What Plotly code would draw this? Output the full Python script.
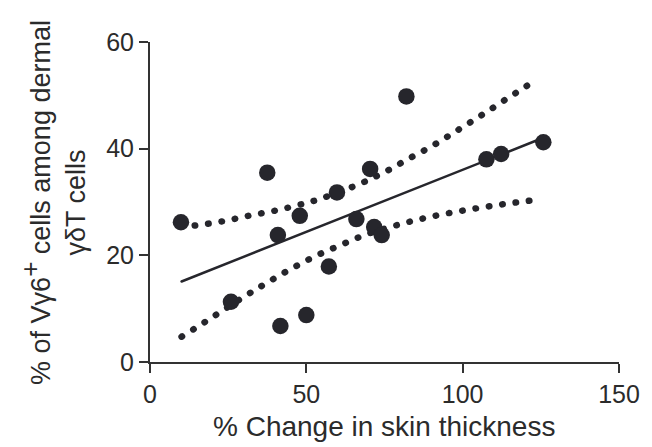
import plotly.graph_objects as go

# data
skin_change = [9.9, 25.9, 37.5, 40.9, 41.7, 47.9, 50.0, 57.2, 59.8, 66.0, 70.4, 71.7, 74.1, 82.0, 107.6, 112.3, 125.8]
vg6_pct = [26.2, 11.3, 35.5, 23.8, 6.75, 27.4, 8.8, 17.9, 31.8, 26.8, 36.2, 25.3, 23.8, 49.8, 38.0, 39.0, 41.2]

fit_x = [10.1, 125.6]
fit_y = [15.1, 42.0]

upper_x = [10, 14.3, 23.4, 32.2, 41, 49.8, 54, 66.7, 75, 82.7, 90.8, 98.5, 106.1, 113.7, 121.4]
upper_y = [25.4, 25.6, 26.4, 27.5, 28.5, 29.8, 30.5, 33.3, 35.6, 38.1, 40.7, 43.5, 46.3, 49.2, 52.1]

lower_x = [10.1, 17.6, 28.9, 36.7, 44.6, 52.7, 60.9, 69.1, 78, 86.5, 95.4, 104.3, 113.2, 122.1]
lower_y = [4.75, 7.5, 11.8, 14.6, 17.3, 19.8, 21.9, 23.9, 25.5, 26.8, 27.9, 28.8, 29.6, 30.3]

x_ticks = [0, 50, 100, 150]
y_ticks = [0, 20, 40, 60]

INK = "#26262c"
FONT = "Liberation Sans, Arial, Helvetica, sans-serif"

fig = go.Figure()
for bx, by in [(upper_x, upper_y), (lower_x, lower_y)]:
    fig.add_trace(go.Scatter(x=bx, y=by, mode="lines",
                             line=dict(color=INK, width=6.5, dash="0.5px,13px", shape="spline"),
                             hoverinfo="skip"))
fig.add_trace(go.Scatter(x=fit_x, y=fit_y, mode="lines",
                         line=dict(color=INK, width=2.5)))
fig.add_trace(go.Scatter(x=skin_change, y=vg6_pct, mode="markers",
                         marker=dict(color=INK, size=16.5, line=dict(width=0))))

axis_common = dict(showline=True, linecolor="#333333", linewidth=2, ticks="outside",
                   tickcolor="#333333", tickwidth=2, ticklen=9, showgrid=False,
                   zeroline=False, tickfont=dict(family=FONT, size=25, color="#2b2b2b"))

fig.update_xaxes(range=[0, 150], tickvals=x_ticks, **axis_common)
fig.update_yaxes(range=[0, 60], tickvals=y_ticks, **axis_common)

fig.add_annotation(text="% Change in skin thickness", xref="paper", yref="paper",
                   x=0.4995, y=-0.2, xanchor="center", yanchor="middle", showarrow=False,
                   font=dict(family=FONT, size=28, color="#2b2b2b"))
fig.add_annotation(text="% of Vγ6<sup><span style='font-size:26px'>+</span></sup> cells among dermal<br>γδT cells",
                   xref="paper", yref="paper", x=-0.207, y=0.5, xanchor="center",
                   yanchor="middle", textangle=-90, showarrow=False,
                   font=dict(family=FONT, size=27, color="#2b2b2b"))

fig.update_layout(width=652, height=447, showlegend=False,
                  margin=dict(l=149.5, r=24, t=42, b=85),
                  plot_bgcolor="white", paper_bgcolor="white")

fig.write_html("out.html", post_script=(
    "document.querySelectorAll('.js-line').forEach(function(p){"
    "p.style.strokeLinecap='round';});"))
